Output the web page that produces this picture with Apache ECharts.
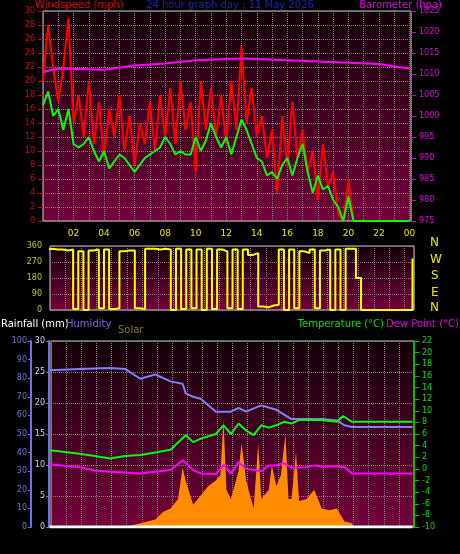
<!DOCTYPE html>
<html><head><meta charset="utf-8">
<script src="https://cdn.jsdelivr.net/npm/echarts@6/dist/echarts.min.js"></script>
<style>html,body{margin:0;background:#000}#c{width:460px;height:554px}</style>
</head><body><div id="c"></div>
<script>
// 20-minute samples, 0:00 .. 24:00
const windGust = [20,28,22,17,22,29,14,18,12,20,11,17,9,16,12,18,10,15,8,14,11,17,10,18,12,19,11,20,13,17,7,20,13,19,12,18,11,20,13,25,14,19,12,15,9,13,4,15,8,17,9,13,7,10,3,11,5,7,1,0,6,0,0,0,0,0,0,0,0,0,0,0,0];
const windAvg = [16.5,18.5,15,16,13,16,11,10.5,11,12,10,8.5,10,7.5,8.5,9.5,9,8,7,8,9,9.5,10,10.5,12,11,9.5,10,9.5,9.5,12,10,11.5,14,12,10.5,12,9.5,12,14.5,13,11,9,8.5,6.5,7,6,8,9,6.5,9,11,7,4,6.5,4.5,5,3,2,0,3.5,0,0,0,0,0,0,0,0,0,0,0,0];
const windDir = [340,345,340,340,335,340,5,330,0,335,340,10,340,5,10,330,335,335,10,5,345,345,340,345,340,0,345,5,340,10,340,0,345,5,340,330,10,340,5,340,310,320,20,15,25,30,340,0,340,10,330,320,340,10,335,340,0,340,0,345,345,180,0,0,0,0,0,0,0,0,0,0,290];
const baroTimes = [0,1,4,6,8,10,13,16,18,20,22,23,24];
const baro = [1010.5,1011.3,1011,1012,1012.5,1013.3,1013.7,1013.3,1013,1012.7,1012.4,1011.8,1011.3];
const humTimes = [0,2,4,5,6,7,8,8.8,9,9.5,10,11,12,12.5,13,14,15,16,17,18,19,19.5,20,24];
const humidity = [84.2,85,85.5,85,79.7,82,78.3,77,72,70,69,62,62,64,62,65.4,63,58,58,58,57.3,54.7,53.8,53.8];
const tempTimes = [0,2,3,4,5,6,7,8,9,9.5,10,11,11.5,12,12.5,13,13.5,14,14.5,15,15.5,16,16.5,17,18,19,19.4,20,24];
const temperature = [3.2,2.6,2.2,1.8,2.2,2.4,2.8,3.3,5.8,4.6,5.2,6,7.5,6,7.8,6.6,5.8,7.5,7.1,7.5,8.1,7.8,8.4,8.4,8.4,8.1,9.1,8.1,8.1];
const dewTimes = [0,2,3,4,6,8,8.8,9.5,10,11,11.5,12,12.5,13,14,14.5,15,15.5,16,17,17.5,18,19,19.5,20,24];
const dewPoint = [0.8,0.3,-0.3,-0.5,-0.8,-0.2,1.5,-0.2,-0.8,-0.9,0.7,-0.8,1.2,0,-0.4,0.6,0.6,1,0.2,0.3,0.6,0.4,0.4,0.3,-0.8,-0.8];
const solarTimes = [0,5,6,6.5,7,7.5,8,8.5,8.8,9,9.5,10,10.5,11,11.3,11.5,11.7,12,12.5,12.7,13,13.5,13.8,14,14.5,14.7,15,15.3,15.6,15.8,16,16.3,16.5,17,17.5,18,18.5,19,19.5,20,20.1,24];
const solar = [0,0,20,30,40,80,100,150,320,250,120,170,220,250,280,580,200,150,300,450,250,100,450,150,200,330,220,280,500,150,150,400,140,150,200,100,90,100,30,20,0,0];
const rainTimes = [0,24];
const rainfall = [0,0];

const t20 = i => i/3;
const pair = (arr,f) => arr.map((v,i)=>[f(i),v]);
const zip = (t,v) => t.map((x,i)=>[x,v[i]]);

const chart = echarts.init(document.getElementById('c'));
const grad = new echarts.graphic.LinearGradient(0,0,0,1,[{offset:0,color:'#120008'},{offset:1,color:'#75003c'}]);
const gridLine = {show:true,lineStyle:{color:'#8a7a80',type:'dotted',width:1}};
const hourFmt = v => (v%2===0 ? String(v%24).padStart(2,'0') : '');
const xBase = (gi,min,showLabel) => ({type:'value',gridIndex:gi,min:min,max:24.1,interval:1,
  axisLine:{show:false},axisTick:{show:false},splitLine:gridLine,
  axisLabel:{show:showLabel,color:'#e8e800',fontSize:9,formatter:v=>Number.isInteger(v)?hourFmt(v):'',showMinLabel:false,showMaxLabel:false}});
const font = 'DejaVu Sans';
const txt = (x,y,t,c,size,align) => ({type:'text',left:align==='right'?undefined:x,right:align==='right'?x:undefined,top:y,style:{text:t,fill:c,font:(size||11)+'px '+font}});

chart.setOption({
  backgroundColor:'#000',
  animation:false,
  textStyle:{fontFamily:font},
  grid:[
    {left:43,right:49,top:11,height:210,show:true,backgroundColor:grad,borderColor:'#ccc',borderWidth:1},
    {left:50,right:46,top:246,height:64,show:true,backgroundColor:grad,borderColor:'#ccc',borderWidth:1},
    {left:51,right:46,top:341,height:186,show:true,backgroundColor:grad,borderColor:'#ccc',borderWidth:1}
  ],
  xAxis:[xBase(0,0,true),xBase(1,0.5,false),xBase(2,0.1,true)],
  yAxis:[
    {gridIndex:0,min:0,max:30,interval:2,axisLine:{show:false},axisTick:{show:true,lineStyle:{color:'#c00'}},splitLine:gridLine,axisLabel:{color:'#e00000',fontSize:8}},
    {gridIndex:0,position:'right',min:975,max:1025,interval:5,axisLine:{show:false},axisTick:{show:true,lineStyle:{color:'#c0c'}},splitLine:{show:false},axisLabel:{color:'#e000e0',fontSize:8,formatter:v=>String(v)}},
    {gridIndex:1,min:0,max:360,interval:90,axisLine:{show:false},axisTick:{show:false},splitLine:gridLine,axisLabel:{color:'#c8c800',fontSize:8}},
    {gridIndex:2,position:'left',min:0,max:100,interval:10,offset:20,axisLine:{show:true,lineStyle:{color:'#7070e0',width:2}},axisTick:{show:true,length:3,lineStyle:{color:'#7070e0'}},splitLine:{show:false},axisLabel:{color:'#7070e0',fontSize:8,margin:4}},
    {gridIndex:2,position:'left',min:0,max:30,interval:5,offset:2,axisLine:{show:true,lineStyle:{color:'#7070e0',width:2}},axisTick:{show:true,length:3,lineStyle:{color:'#7070e0'}},splitLine:gridLine,axisLabel:{color:'#d0d0ff',fontSize:8,margin:4}},
    {gridIndex:2,position:'right',min:-10,max:22,interval:2,axisLine:{show:true,lineStyle:{color:'#00c000'}},axisTick:{show:true,lineStyle:{color:'#00c000'}},splitLine:{show:false},axisLabel:{color:'#00e000',fontSize:8}},
    {gridIndex:2,position:'right',min:0,max:1000,show:false}
  ],
  graphic:[
    txt(35,0,'Windspeed (mph)','#e00000',10),
    {type:'text',left:'center',top:0,style:{text:'24 hour graph day : 11 May 2026',fill:'#2020b0',font:'10px '+font}},
    txt(18,0,'Barometer (hpa)','#e000e0',10,'right'),
    txt(430,237,'N','#e8e800',12), txt(430,254,'W','#e8e800',12), txt(431,270,'S','#e8e800',12),
    txt(431,287,'E','#e8e800',12), txt(430,302,'N','#e8e800',12),
    txt(1,319,'Rainfall (mm)','#fff',10), txt(66,319,'Humidity','#7070e0',10),
    txt(118,325,'Solar','#8a7a20',10),
    {type:'text',right:76,top:319,style:{text:'Temperature (°C)',fill:'#00e000',font:'10px '+font}},
    {type:'text',right:1,top:319,style:{text:'Dew Point (°C)',fill:'#e000e0',font:'10px '+font}}
  ],
  series:[
    {type:'line',xAxisIndex:0,yAxisIndex:0,data:pair(windGust,t20),showSymbol:false,lineStyle:{color:'#ff0000',width:2}},
    {type:'line',xAxisIndex:0,yAxisIndex:0,data:pair(windAvg,t20),showSymbol:false,lineStyle:{color:'#00ff00',width:2}},
    {type:'line',xAxisIndex:0,yAxisIndex:1,data:zip(baroTimes,baro),showSymbol:false,lineStyle:{color:'#ff00ff',width:2}},
    {type:'line',xAxisIndex:1,yAxisIndex:2,data:pair(windDir,t20),showSymbol:false,step:'end',lineStyle:{color:'#ffff00',width:2}},
    {type:'line',xAxisIndex:2,yAxisIndex:6,data:zip(solarTimes,solar),showSymbol:false,lineStyle:{width:0},areaStyle:{color:'#ff8c00',opacity:1},itemStyle:{color:'#ff8c00'}},
    {type:'line',xAxisIndex:2,yAxisIndex:3,data:zip(humTimes,humidity),showSymbol:false,lineStyle:{color:'#8080ff',width:2}},
    {type:'line',xAxisIndex:2,yAxisIndex:5,data:zip(tempTimes,temperature),showSymbol:false,lineStyle:{color:'#00ff00',width:2}},
    {type:'line',xAxisIndex:2,yAxisIndex:5,data:zip(dewTimes,dewPoint),showSymbol:false,lineStyle:{color:'#ff00ff',width:2}},
    {type:'line',xAxisIndex:2,yAxisIndex:4,data:zip(rainTimes,rainfall),showSymbol:false,lineStyle:{color:'#ffffff',width:3}}
  ]
});
</script></body></html>
